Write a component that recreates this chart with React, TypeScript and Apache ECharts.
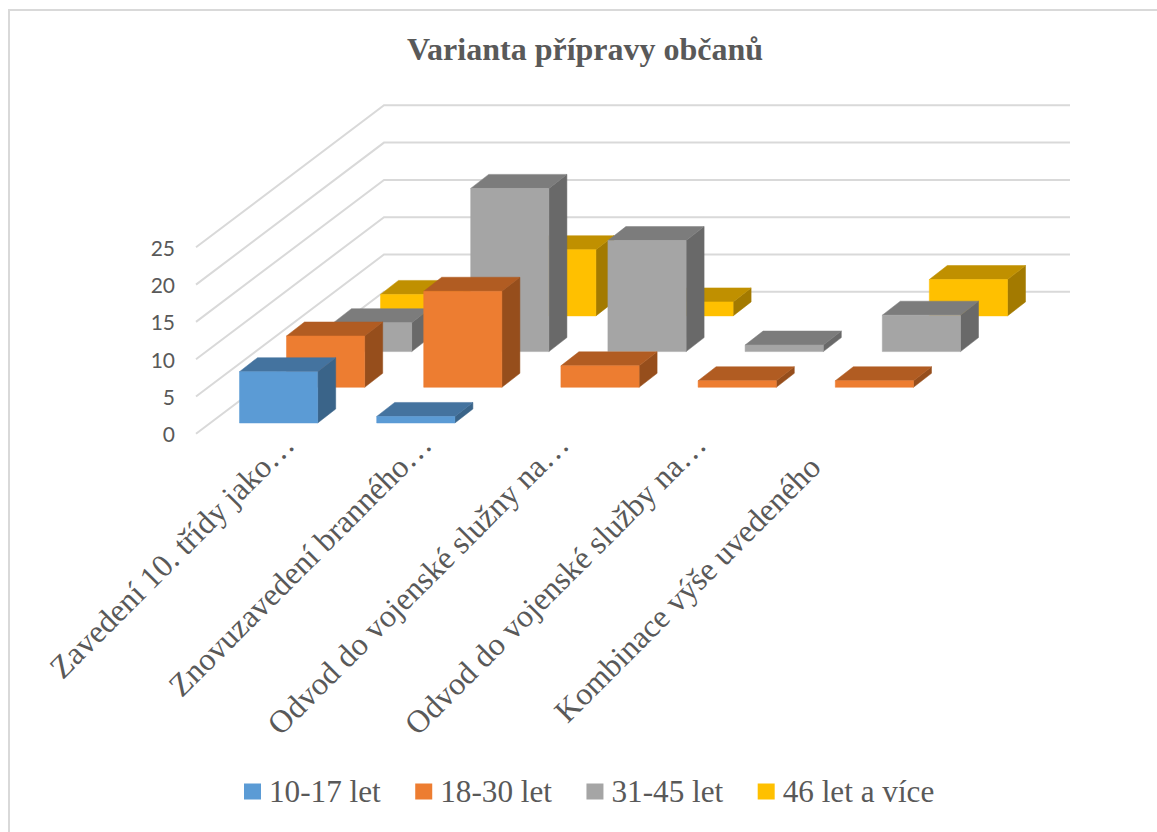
import React, { useEffect, useRef } from "react";
import * as echarts from "echarts";

const categories = [
  "Zavedení 10. třídy jako…",
  "Znovuzavedení branného…",
  "Odvod do vojenské služny na…",
  "Odvod do vojenské služby na…",
  "Kombinace výše uvedeného",
];
const seriesNames = ["10-17 let", "18-30 let", "31-45 let", "46 let a více"];
const values17 = [7, 1, 0, 0, 0];
const values30 = [7, 13, 3, 1, 1];
const values45 = [4, 22, 15, 1, 5];
const values60 = [3, 9, 2, 0, 5];
const allValues = [values17, values30, values45, values60];
const yTicks = [0, 5, 10, 15, 20, 25];
const frontColors = ["#5B9BD5", "#ED7D31", "#A5A5A5", "#FFC000"];
const topColors = ["#44739F", "#B15C22", "#7C7C7C", "#C09000"];
const sideColors = ["#3A6489", "#964E1C", "#696969", "#A37A00"];
const labelNudge = [-34, -34, -34, -34, -2];

const STEP_X = 47;
const STEP_Y = 35.7;
const DEPTH_X = 18;
const DEPTH_Y = 14;
const WALL_X = 188;
const WALL_Y = 142;
const FLOOR_Y = 10.8;
const TOP_INSET = 0.9;

const barSeries = (i: number) => ({
  type: "custom" as const,
  name: seriesNames[i],
  z: 10 - i,
  clip: false,
  silent: true,
  itemStyle: { color: frontColors[i] },
  data: allValues[i].map((v, c) => [c, v]),
  renderItem: (_p: any, api: any) => {
    const v = api.value(1);
    if (!v) return undefined;
    const band = api.size([1, 0])[0];
    const w = band * 0.57;
    const base = api.coord([api.value(0), 0]);
    const top = api.coord([api.value(0), v]);
    const x0 = base[0] - w / 2 + 14 + i * STEP_X;
    const x1 = x0 + w;
    const yb = base[1] - FLOOR_Y - i * STEP_Y;
    const yt = top[1] - FLOOR_Y - i * STEP_Y + TOP_INSET;
    const poly = (points: number[][], fill: string) => ({
      type: "polygon",
      shape: { points },
      style: { fill, stroke: fill, lineWidth: 0.5 },
    });
    return {
      type: "group",
      children: [
        poly([[x1, yb], [x1 + DEPTH_X, yb - DEPTH_Y], [x1 + DEPTH_X, yt - DEPTH_Y], [x1, yt]], sideColors[i]),
        poly([[x0, yt], [x1, yt], [x1 + DEPTH_X, yt - DEPTH_Y], [x0 + DEPTH_X, yt - DEPTH_Y]], topColors[i]),
        poly([[x0, yb], [x1, yb], [x1, yt], [x0, yt]], frontColors[i]),
      ],
    };
  },
});

export default function App() {
  const ref = useRef<HTMLDivElement>(null);
  useEffect(() => {
    document.body.style.margin = "0";
    const chart = echarts.init(ref.current!, undefined, { renderer: "svg" });
    chart.setOption({
      animation: false,
      backgroundColor: "#ffffff",
      title: {
        text: "Varianta přípravy občanů",
        left: 580,
        top: 28,
        textAlign: "center",
        textStyle: { fontFamily: "Liberation Serif", fontSize: 32, fontWeight: "bold", color: "#595959" },
      },
      legend: {
        data: seriesNames,
        left: 239,
        top: 771,
        icon: "rect",
        itemWidth: 17,
        itemHeight: 16,
        itemGap: 34.5,
        textStyle: { fontFamily: "Liberation Serif", fontSize: 31.2, color: "#595959", padding: [0, 0, 0, 3] },
      },
      grid: { left: 196, top: 247.3, width: 686, height: 186.5 },
      xAxis: {
        type: "category",
        data: categories.map((value, k) => ({
          value,
          textStyle: { padding: [0, labelNudge[k], 0, 0] },
        })),
        axisLine: { show: false },
        axisTick: { show: false },
        axisLabel: {
          interval: 0,
          rotate: 45,
          margin: 29,
          fontFamily: "Liberation Serif",
          fontSize: 32,
          color: "#595959",
        },
      },
      yAxis: {
        type: "value",
        min: 0,
        max: 25,
        interval: 5,
        splitLine: { show: false },
        axisLine: { show: false },
        axisTick: { show: false },
        axisLabel: { margin: 21, fontFamily: "Lato", fontSize: 21, color: "#595959" },
      },
      graphic: [
        {
          type: "rect",
          silent: true,
          shape: { x: 9, y: 10, width: 1160, height: 840 },
          style: { fill: "none", stroke: "#D9D9D9", lineWidth: 2 },
        },
      ],
      series: [
        {
          type: "custom",
          name: "grid",
          z: 1,
          silent: true,
          clip: false,
          data: yTicks.map((t) => [0, t]),
          renderItem: (params: any, api: any) => {
            const p = api.coord([0, api.value(1)]);
            const left = params.coordSys.x;
            const width = params.coordSys.width;
            return {
              type: "polyline",
              shape: {
                points: [
                  [left, p[1]],
                  [left + WALL_X, p[1] - WALL_Y],
                  [left + WALL_X + width, p[1] - WALL_Y],
                ],
              },
              style: { fill: "none", stroke: "#D9D9D9", lineWidth: 2 },
            };
          },
        },
        ...allValues.map((_, i) => barSeries(i)),
      ],
    });
    return () => chart.dispose();
  }, []);
  return <div ref={ref} style={{ width: 1157, height: 832 }} />;
}
